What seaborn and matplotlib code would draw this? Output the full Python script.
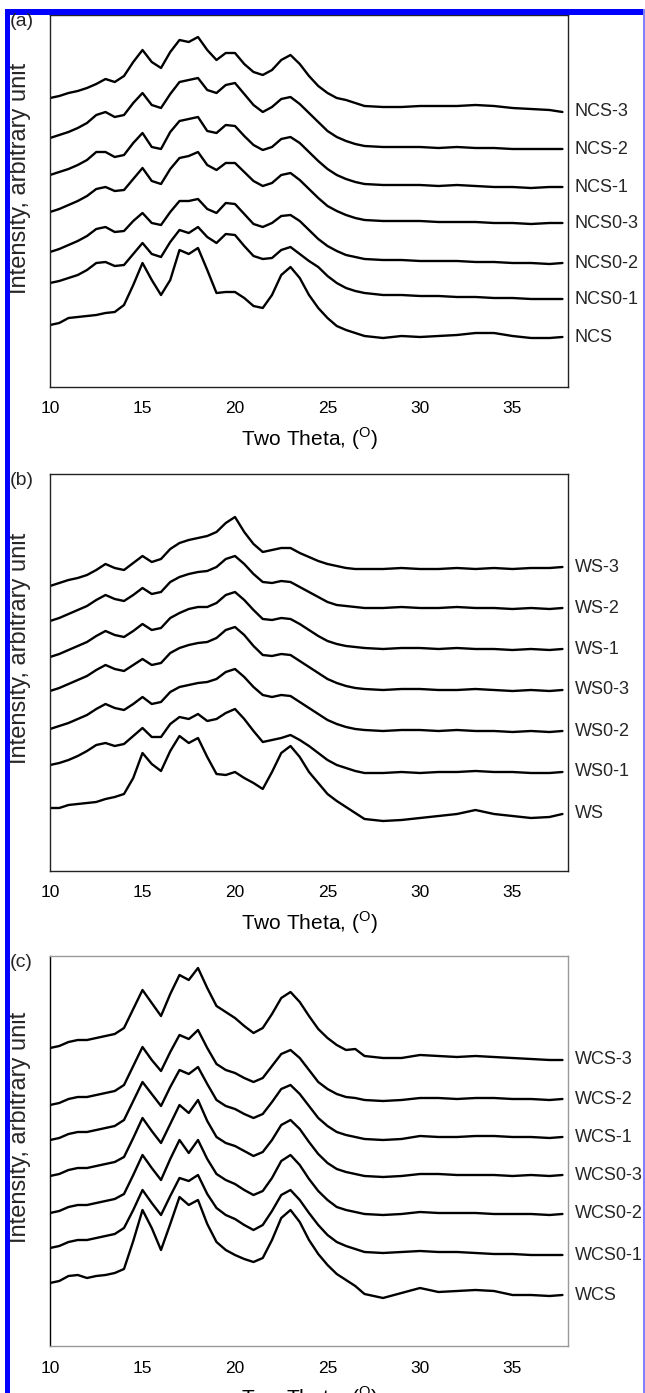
import matplotlib
matplotlib.use("Agg")
import matplotlib.pyplot as plt
import seaborn as sns
from matplotlib.patches import Rectangle

# two-theta grid (degrees), shared by every pattern
two_theta = [10, 10.5, 11, 11.5, 12, 12.5, 13, 13.5, 14, 14.5, 15, 15.5, 16, 16.5,
             17, 17.5, 18, 18.5, 19, 19.5, 20, 20.5, 21, 21.5, 22, 22.5, 23, 23.5,
             24, 24.5, 25, 25.5, 26, 26.5, 27, 28, 29, 30, 31, 32, 33, 34, 35, 36, 37, 37.7]

# (a) NCS series, stacked intensities (arbitrary units), top to bottom
ncs_names = ["NCS-3", "NCS-2", "NCS-1", "NCS0-3", "NCS0-2", "NCS0-1", "NCS"]
ncs_3 = [289, 291, 294, 296, 299, 303, 308, 305, 311, 325, 337, 325, 319, 335, 347, 345, 350, 337, 327, 334,
         334, 323, 315, 312, 317, 327, 332, 323, 311, 301, 294, 289, 287, 284, 281, 280, 280, 281, 281, 281,
         282, 281, 279, 278, 277, 275]
ncs_2 = [249, 252, 255, 259, 264, 272, 275, 270, 272, 284, 294, 282, 279, 293, 305, 307, 309, 297, 294, 302,
         304, 293, 282, 275, 280, 288, 290, 283, 274, 265, 256, 250, 246, 243, 241, 240, 240, 240, 239, 240,
         239, 239, 238, 238, 238, 238]
ncs_1 = [212, 215, 218, 222, 227, 235, 235, 230, 232, 244, 254, 240, 238, 255, 266, 268, 270, 256, 254, 262,
         261, 251, 242, 237, 240, 248, 250, 244, 235, 226, 218, 212, 208, 205, 203, 202, 202, 202, 201, 202,
         201, 200, 200, 199, 200, 200]
ncs0_3 = [175, 178, 182, 186, 191, 198, 200, 196, 197, 208, 219, 206, 203, 218, 229, 231, 235, 222, 217, 224,
          224, 215, 206, 201, 204, 212, 214, 207, 198, 189, 181, 176, 172, 169, 167, 166, 166, 166, 165, 165,
          165, 164, 164, 163, 164, 164]
ncs0_2 = [135, 138, 142, 146, 151, 158, 160, 155, 156, 166, 174, 164, 162, 175, 186, 186, 188, 178, 174, 184,
          183, 173, 163, 160, 164, 171, 172, 166, 157, 148, 141, 136, 132, 130, 128, 127, 127, 126, 126, 126,
          125, 125, 124, 124, 123, 124]
ncs0_1 = [104, 106, 109, 112, 117, 124, 125, 121, 122, 133, 144, 133, 130, 145, 157, 154, 160, 150, 144, 153,
          152, 141, 131, 128, 129, 137, 140, 133, 126, 120, 111, 104, 99, 96, 94, 92, 92, 91, 91, 90,
          90, 89, 89, 88, 88, 88]
ncs = [62, 64, 69, 70, 71, 72, 74, 75, 82, 102, 124, 107, 92, 107, 137, 133, 139, 117, 94, 95,
       95, 89, 81, 79, 92, 112, 120, 109, 92, 79, 69, 61, 57, 54, 51, 49, 51, 50, 51, 52,
       54, 54, 51, 49, 49, 50]

# (b) WS series
ws_names = ["WS-3", "WS-2", "WS-1", "WS0-3", "WS0-2", "WS0-1", "WS"]
ws_3 = [285, 288, 291, 293, 296, 301, 307, 303, 301, 308, 315, 309, 312, 322, 328, 331, 333, 335, 339, 348,
        354, 339, 327, 319, 321, 323, 323, 318, 314, 310, 307, 305, 303, 302, 302, 302, 303, 302, 302, 303,
        302, 303, 302, 303, 303, 304]
ws_2 = [250, 253, 257, 261, 265, 271, 276, 272, 270, 276, 283, 277, 279, 289, 294, 297, 299, 300, 304, 312,
        315, 307, 297, 289, 288, 290, 289, 284, 279, 274, 269, 266, 265, 264, 263, 263, 264, 263, 263, 264,
        263, 263, 262, 263, 262, 263]
ws_1 = [214, 217, 221, 225, 229, 235, 240, 236, 234, 240, 247, 241, 243, 253, 258, 262, 264, 264, 268, 276,
        279, 271, 261, 252, 251, 253, 252, 247, 241, 235, 230, 227, 225, 224, 223, 222, 223, 223, 222, 223,
        222, 222, 221, 222, 221, 222]
ws0_3 = [180, 183, 187, 191, 195, 201, 206, 202, 200, 206, 212, 206, 208, 218, 223, 226, 228, 229, 233, 241,
         244, 236, 225, 216, 215, 217, 216, 210, 204, 198, 192, 188, 185, 183, 182, 181, 182, 182, 181, 181,
         182, 181, 180, 181, 180, 181]
ws0_2 = [142, 145, 148, 152, 156, 162, 167, 163, 161, 167, 174, 167, 169, 179, 184, 186, 188, 189, 192, 199,
         202, 194, 184, 176, 174, 176, 175, 169, 163, 157, 151, 147, 144, 142, 141, 140, 141, 141, 140, 141,
         140, 140, 139, 140, 139, 140]
ws0_1 = [106, 108, 111, 115, 120, 126, 128, 125, 127, 135, 143, 134, 134, 147, 154, 152, 157, 150, 152, 158,
         162, 152, 140, 129, 131, 133, 136, 131, 125, 118, 111, 106, 103, 100, 98, 98, 99, 98, 99, 99,
         100, 99, 99, 98, 98, 99]
ws = [63, 63, 66, 67, 68, 69, 72, 74, 77, 93, 118, 107, 100, 120, 135, 128, 133, 114, 97, 96,
      99, 93, 88, 82, 99, 118, 125, 114, 99, 88, 77, 70, 64, 58, 52, 50, 51, 53, 55, 57,
      61, 57, 55, 53, 54, 57]

# (c) WCS series
wcs_names = ["WCS-3", "WCS-2", "WCS-1", "WCS0-3", "WCS0-2", "WCS0-1", "WCS"]
wcs_3 = [298, 300, 304, 306, 306, 308, 310, 312, 318, 337, 356, 343, 330, 352, 371, 366, 378, 358, 340, 334,
         328, 320, 313, 318, 332, 348, 354, 344, 330, 317, 308, 301, 296, 297, 290, 288, 288, 291, 290, 289,
         290, 289, 288, 287, 286, 286]
wcs_2 = [241, 243, 247, 249, 249, 251, 253, 255, 261, 280, 299, 286, 275, 294, 311, 307, 316, 298, 282, 276,
         273, 268, 264, 268, 280, 292, 296, 288, 276, 264, 257, 252, 249, 248, 246, 245, 246, 248, 248, 247,
         248, 248, 247, 247, 246, 247]
wcs_1 = [206, 208, 212, 214, 214, 216, 218, 220, 226, 245, 264, 252, 240, 259, 276, 272, 279, 262, 246, 240,
         237, 232, 228, 232, 244, 257, 261, 252, 240, 228, 220, 214, 211, 209, 207, 206, 207, 210, 209, 209,
         210, 210, 209, 209, 208, 209]
wcs0_3 = [170, 172, 176, 178, 178, 180, 182, 184, 189, 208, 228, 215, 203, 222, 241, 233, 246, 225, 209, 203,
          200, 195, 190, 194, 206, 221, 226, 217, 204, 192, 183, 177, 174, 172, 170, 169, 170, 172, 172, 171,
          171, 171, 170, 171, 170, 171]
wcs0_2 = [133, 135, 139, 141, 141, 143, 145, 147, 152, 171, 191, 178, 166, 187, 206, 193, 206, 187, 172, 166,
          162, 156, 151, 155, 168, 185, 191, 181, 167, 155, 146, 139, 136, 134, 132, 131, 132, 134, 133, 133,
          133, 132, 132, 132, 131, 132]
wcs0_1 = [98, 100, 104, 106, 106, 108, 110, 112, 118, 136, 156, 143, 131, 150, 168, 165, 171, 152, 138, 131,
          127, 121, 116, 121, 135, 151, 156, 146, 133, 121, 111, 104, 100, 97, 94, 93, 94, 95, 94, 94,
          93, 92, 92, 91, 91, 91]
wcs = [63, 65, 70, 71, 68, 70, 71, 73, 77, 105, 136, 118, 96, 122, 149, 141, 146, 122, 104, 96,
       91, 87, 84, 88, 106, 128, 136, 124, 106, 92, 81, 72, 66, 60, 52, 48, 53, 58, 54, 55,
       56, 55, 51, 51, 50, 51]

panels = [
    ("(a)", ncs_names, [ncs_3, ncs_2, ncs_1, ncs0_3, ncs0_2, ncs0_1, ncs], 372),
    ("(b)", ws_names, [ws_3, ws_2, ws_1, ws0_3, ws0_2, ws0_1, ws], 397),
    ("(c)", wcs_names, [wcs_3, wcs_2, wcs_1, wcs0_3, wcs0_2, wcs0_1, wcs], 390),
]

sns.set_style("white")
plt.rcParams["font.family"] = ["Liberation Sans", "DejaVu Sans"]
plt.rcParams["mathtext.fontset"] = "custom"
plt.rcParams["mathtext.rm"] = "Liberation Sans"

W, H = 645, 1393
fig = plt.figure(figsize=(W / 100, H / 100), dpi=100)

# axes boxes in pixels: (top, bottom)
boxes = [(15, 387), (474, 871), (956, 1346)]
left_px, right_px = 50, 568

for i, (tag, names, series, ytop) in enumerate(panels):
    top, bot = boxes[i]
    ax = fig.add_axes([left_px / W, 1 - bot / H, (right_px - left_px) / W, (bot - top) / H])
    for name, vals in zip(names, series):
        sns.lineplot(x=two_theta, y=vals, ax=ax, color="black", lw=1.7)
        ax.text(1.013, vals[-1], name, transform=ax.get_yaxis_transform(),
                ha="left", va="center", fontsize=13, clip_on=False)
    ax.set_xlim(10, 38)
    ax.set_ylim(0, ytop)
    ax.set_xticks([10, 15, 20, 25, 30, 35])
    ax.set_yticks([279] if i == 0 else [])
    ax.set_yticklabels([])
    ax.tick_params(axis="y", length=4, color="#888888", direction="out")
    if i == 2:
        ax.tick_params(axis="x", length=3.5, width=0.8, color="#555555", pad=7,
                       labelsize=12.5, labelcolor="black")
        ax.spines["left"].set_color("black")
        for s in ("bottom", "top", "right"):
            ax.spines[s].set_color("#999999")
    else:
        ax.tick_params(axis="x", length=0, pad=10, labelsize=12.5, labelcolor="black")
        for s in ax.spines.values():
            s.set_color("#222222")
    for s in ax.spines.values():
        s.set_linewidth(1.0)
    ax.set_xlabel(r"Two Theta, ($^{\mathrm{O}}$)", fontsize=15, color="black")
    ax.xaxis.set_label_coords(0.5, -38 / (bot - top))
    ax.set_ylabel("")
    ax.text(-0.058, 0.56, "Intensity, arbitrary unit", rotation=90, ha="center", va="center",
            fontsize=17, transform=ax.transAxes)
    fig.text(10 / W, 1 - (top - 2) / H, tag, ha="left", va="top", fontsize=14)

# blue page frame
fig.add_artist(Rectangle((5 / W, 0), 5 / W, 1 - 9 / H, transform=fig.transFigure,
                         color="#0000ff", lw=0))
fig.add_artist(Rectangle((5 / W, 1 - 15 / H), 1, 6 / H, transform=fig.transFigure,
                         color="#0000ff", lw=0))
fig.add_artist(Rectangle((643 / W, 0), 1.5 / W, 1 - 9 / H, transform=fig.transFigure,
                         color="#8080ff", lw=0))

fig.savefig("out.png", dpi=100)
